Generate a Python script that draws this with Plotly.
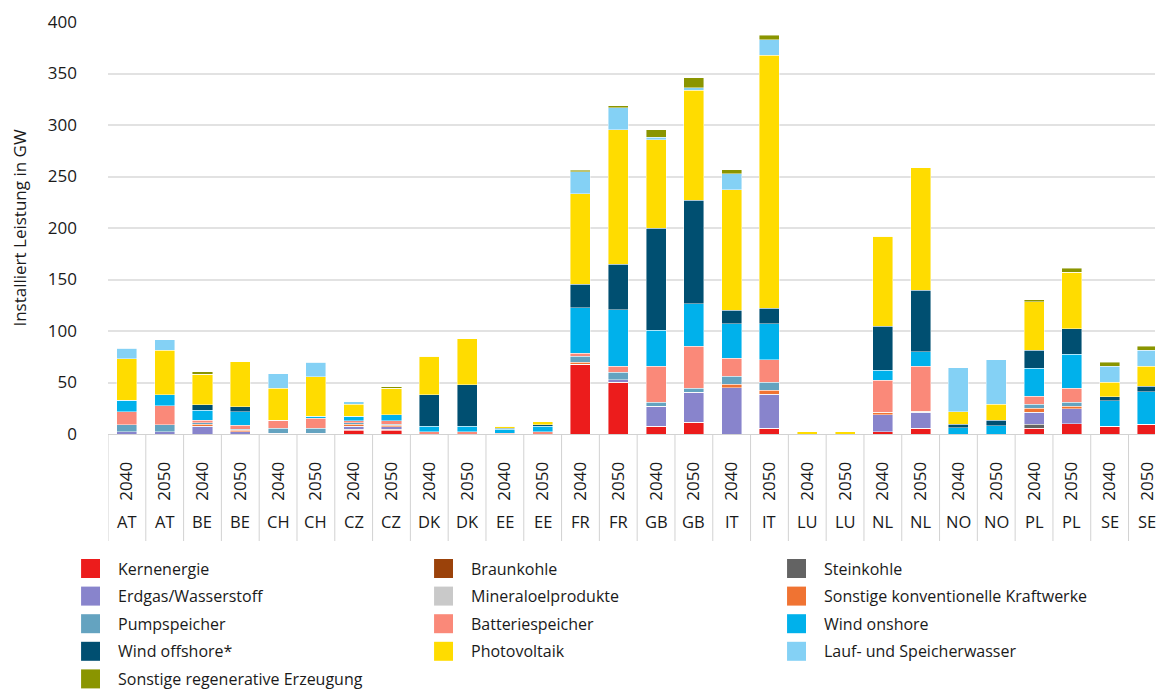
import plotly.graph_objects as go

# Categories: country and scenario year for every bar
countries = ["AT", "AT", "BE", "BE", "CH", "CH", "CZ", "CZ", "DK", "DK", "EE", "EE", "FR", "FR",
             "GB", "GB", "IT", "IT", "LU", "LU", "NL", "NL", "NO", "NO", "PL", "PL", "SE", "SE"]
years = ["2040", "2050"] * 14

# Installed capacity per technology in GW (same order as the categories above)
kernenergie = [0, 0, 0, 0, 0, 0, 3.7, 3.7, 0, 0, 0, 0, 67.5, 50.3,
               7.6, 11.5, 0, 5.6, 0, 0, 2.0, 5.6, 0, 0, 5.4, 9.8, 7.6, 9.5]
braunkohle = [0, 0, 0, 0, 0, 0, 0.9, 0.7, 0, 0, 0, 0, 0, 0,
              0, 0, 0, 0, 0, 0, 0, 0, 0, 0, 0, 0, 0, 0]
steinkohle = [0, 0, 0, 0, 0, 0, 0, 0, 0, 0, 0, 0, 0, 0,
              0, 0, 0, 0, 0, 0, 0, 0, 0, 0, 3.9, 0, 0, 0]
erdgas_wasserstoff = [2.0, 2.0, 7.6, 2.2, 0.5, 0.5, 2.9, 2.5, 0, 0, 0, 0, 0, 2.3,
                      19.4, 29.1, 44.8, 33.0, 0, 0, 16.9, 15.6, 0, 0, 11.7, 14.9, 0, 0]
mineraloelprodukte = [0, 0, 0, 0, 0, 0, 0, 0, 0, 0, 0, 0, 0, 0,
                      0, 0, 0, 0, 0, 0, 0, 0, 0, 0, 0, 0, 0, 0]
sonstige_konventionelle = [0, 0, 1.9, 1.3, 0, 0, 1.9, 1.5, 0, 0, 0, 0, 2.2, 0,
                           0, 0, 3.5, 3.9, 0, 0, 2.3, 0.8, 0, 0, 3.9, 2.2, 0, 0]
pumpspeicher = [7.2, 7.2, 1.2, 1.0, 5.1, 5.1, 1.7, 1.0, 0, 0, 0, 0, 5.8, 7.4,
                3.9, 3.9, 7.8, 7.8, 0, 0, 0, 0, 0, 0, 3.8, 3.9, 0, 0]
batteriespeicher = [12.3, 18.2, 2.7, 3.8, 7.8, 9.7, 1.9, 3.7, 2.0, 2.0, 0.5, 2.0, 2.7, 5.8,
                    34.9, 40.7, 17.5, 21.7, 0, 0, 31.0, 43.8, 0, 0, 8.1, 13.6, 0, 0]
wind_onshore = [11.3, 10.9, 9.7, 13.2, 0, 2.0, 4.2, 5.5, 5.5, 5.5, 4.2, 5.5, 44.6, 54.7,
                35.0, 41.2, 33.4, 35.0, 0, 0, 9.8, 14.0, 6.0, 7.9, 27.2, 33.0, 24.9, 31.5]
wind_offshore = [0, 0, 5.5, 5.2, 0, 0, 0, 0, 30.7, 40.5, 1.0, 1.6, 22.6, 44.4,
                 99.0, 100.6, 13.2, 15.1, 0, 0, 42.7, 59.8, 3.5, 5.5, 17.5, 24.9, 3.9, 5.4]
photovoltaik = [40.5, 42.8, 29.5, 43.3, 30.8, 38.5, 11.6, 25.6, 37.2, 44.6, 2.0, 2.6, 88.1, 130.4,
                86.1, 106.8, 116.9, 245.4, 2.0, 2.0, 87.3, 118.8, 12.0, 15.6, 46.9, 54.7, 13.9, 19.4]
lauf_speicherwasser = [10.0, 10.4, 0, 0, 14.2, 13.9, 2.3, 0, 0, 0, 0, 0, 21.1, 21.4,
                       2.0, 2.3, 15.5, 15.5, 0, 0, 0, 0, 42.7, 43.0, 0, 0, 15.5, 15.6]
sonstige_regenerative = [0, 0, 2.3, 0, 0, 0, 0, 1.9, 0, 0, 0, 0, 1.5, 1.9,
                         7.7, 9.7, 3.9, 3.9, 0, 0, 0, 0, 0, 0, 2.0, 3.9, 3.9, 3.8]

# Stacking order (bottom to top); the legend lists them row by row in the same order
series = [
    ("Kernenergie", kernenergie, "#EC1C1C"),
    ("Braunkohle", braunkohle, "#9B420A"),
    ("Steinkohle", steinkohle, "#636363"),
    ("Erdgas/Wasserstoff", erdgas_wasserstoff, "#8884CC"),
    ("Mineraloelprodukte", mineraloelprodukte, "#C9C9C9"),
    ("Sonstige konventionelle Kraftwerke", sonstige_konventionelle, "#F07332"),
    ("Pumpspeicher", pumpspeicher, "#64A3C0"),
    ("Batteriespeicher", batteriespeicher, "#FA8979"),
    ("Wind onshore", wind_onshore, "#00B1EB"),
    ("Wind offshore*", wind_offshore, "#004F71"),
    ("Photovoltaik", photovoltaik, "#FFDC00"),
    ("Lauf- und Speicherwasser", lauf_speicherwasser, "#84D1F5"),
    ("Sonstige regenerative Erzeugung", sonstige_regenerative, "#8A9500"),
]

FONT = "Open Sans"
TEXT = "#1a1a1a"
W, H = 1158, 690
ML, MT, MB = 108, 22, 256
PW, PH = W - ML, H - MT - MB


def paper_x(px):
    return (px - ML) / PW


def paper_y(py):
    return (MT + PH - py) / PH


x = list(range(len(years)))
fig = go.Figure()
for name, vals, color in series:
    fig.add_trace(go.Bar(
        x=x, y=vals, name=name, showlegend=False,
        marker=dict(color=color, line=dict(color="rgba(255,255,255,0.55)", width=0.8)),
    ))

shapes = []
annotations = []

# Vertical dividers of the two-level category axis
for k in range(len(years) + 1):
    shapes.append(dict(type="line", xref="x", yref="paper", x0=k - 0.5, x1=k - 0.5,
                       y0=0, y1=paper_y(541), line=dict(color="#d2d2d2", width=1)))

# Country row underneath the rotated years
for i, c in enumerate(countries):
    annotations.append(dict(x=i, y=paper_y(521), xref="x", yref="paper", text=c,
                            showarrow=False, xanchor="center", yanchor="middle",
                            font=dict(family=FONT, size=16.5, color=TEXT)))

# Legend: three columns, filled row by row
for i, (name, _, color) in enumerate(series):
    row, col = divmod(i, 3)
    sx = 81 + col * 354
    sy = 568.5 + row * 27.6
    shapes.append(dict(type="rect", xref="paper", yref="paper",
                       x0=paper_x(sx), x1=paper_x(sx + 19),
                       y0=paper_y(sy - 9.5), y1=paper_y(sy + 9.5),
                       fillcolor=color, line=dict(width=0)))
    annotations.append(dict(x=paper_x(sx + 36), y=paper_y(sy), xref="paper", yref="paper",
                            text=name, showarrow=False, xanchor="left", yanchor="middle",
                            borderpad=0, font=dict(family=FONT, size=16, color=TEXT)))

fig.update_layout(
    width=W, height=H, autosize=False,
    margin=dict(l=ML, r=0, t=MT, b=MB, pad=0),
    barmode="stack", bargap=0.47,
    plot_bgcolor="white", paper_bgcolor="white",
    font=dict(family=FONT, color=TEXT),
    shapes=shapes, annotations=annotations,
    xaxis=dict(
        range=[-0.5, 27.2], tickmode="array", tickvals=x, ticktext=years,
        tickangle=-90, ticks="", showgrid=False, zeroline=False,
        showline=True, linecolor="#d2d2d2", linewidth=1,
        ticklabeloverflow="allow",
        ticklabelstandoff=20, tickfont=dict(family=FONT, size=17, color=TEXT),
    ),
    yaxis=dict(
        range=[0, 400], dtick=50, showgrid=True, gridcolor="#e2e2e2", gridwidth=2,
        zeroline=False, showline=False, ticks="",
        ticklabelstandoff=30, tickfont=dict(family=FONT, size=17, color=TEXT),
        title=dict(text="Installiert Leistung in GW", standoff=16,
                   font=dict(family=FONT, size=17, color=TEXT)),
    ),
)

fig.write_html("out.html")
